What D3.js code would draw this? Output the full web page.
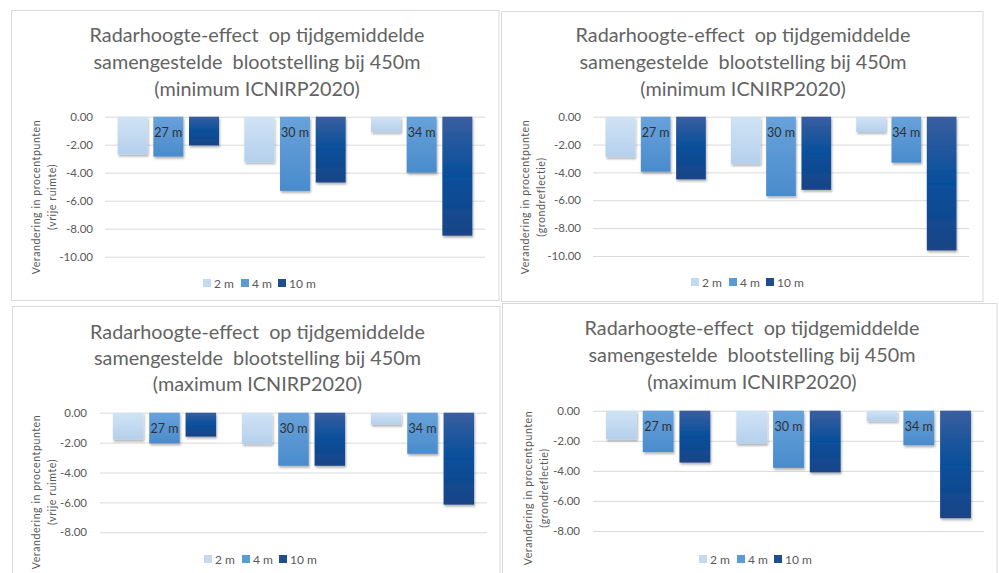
<!DOCTYPE html>
<html><head><meta charset="utf-8">
<script src="https://cdn.jsdelivr.net/npm/d3@7"></script>
<style>
html,body{margin:0;padding:0;background:#fff;}
svg{display:block;font-family:Lato,"Open Sans",sans-serif;}
</style></head>
<body>
<svg id="c" width="999" height="573"></svg>
<script>
// ---------- data ----------
const categories = ["27 m", "30 m", "34 m"];
const seriesNames = ["2 m", "4 m", "10 m"];
const titleLine1 = "Radarhoogte-effect  op tijdgemiddelde";
const titleLine2 = "samengestelde  blootstelling bij 450m";
const titleMin = "(minimum ICNIRP2020)";
const titleMax = "(maximum ICNIRP2020)";
const yTitleMain = "Verandering in procentpunten";
const yTitleVrij = "(vrije ruimte)";
const yTitleGrond = "(grondreflectie)";
const ticksTen = [0, -2, -4, -6, -8, -10];
const ticksEight = [0, -2, -4, -6, -8];

// minimum, vrije ruimte
const minVrij2 = [-2.70, -3.25, -1.10];
const minVrij4 = [-2.85, -5.30, -4.00];
const minVrij10 = [-2.05, -4.70, -8.50];
// minimum, grondreflectie
const minGrond2 = [-2.90, -3.40, -1.10];
const minGrond4 = [-3.95, -5.70, -3.30];
const minGrond10 = [-4.50, -5.25, -9.60];
// maximum, vrije ruimte
const maxVrij2 = [-1.80, -2.10, -0.80];
const maxVrij4 = [-2.05, -3.55, -2.75];
const maxVrij10 = [-1.60, -3.55, -6.15];
// maximum, grondreflectie
const maxGrond2 = [-1.90, -2.20, -0.70];
const maxGrond4 = [-2.75, -3.80, -2.30];
const maxGrond10 = [-3.45, -4.10, -7.15];

// ---------- layout ----------
const panels = [
  {box:[11.5,10.5,487.5,290], cx:257, ty:[34,61,88], sub:titleMin, px:[105,485], py:[116.7,256.7], ymin:-10, ticks:ticksTen, tx:93,
   yt:[36,52], ytc:197, yt2:yTitleVrij, ly:283, lx:203, vals:[minVrij2,minVrij4,minVrij10]},
  {box:[501.5,11.5,481.5,290], cx:743, ty:[34,61,88], sub:titleMin, px:[593,969], py:[116.7,256], ymin:-10, ticks:ticksTen, tx:581,
   yt:[525,541], ytc:197, yt2:yTitleGrond, ly:282, lx:691, vals:[minGrond2,minGrond4,minGrond10]},
  {box:[12.5,306.5,487.5,300], cx:257.5, ty:[331,357,383], sub:titleMax, px:[100,487], py:[412.7,532.3], ymin:-8, ticks:ticksEight, tx:87,
   yt:[36,52], ytc:492, yt2:yTitleVrij, ly:559, lx:204, vals:[maxVrij2,maxVrij4,maxVrij10]},
  {box:[502.5,303.5,494.5,300], cx:752, ty:[327,354,381], sub:titleMax, px:[593,984], py:[410.7,531], ymin:-8, ticks:ticksEight, tx:580,
   yt:[528,544], ytc:488, yt2:yTitleGrond, ly:559, lx:699, vals:[maxGrond2,maxGrond4,maxGrond10]}
];

const svg = d3.select("#c");
const defs = svg.append("defs");
const gradStops = [
  [["0%","#d0e3f5"],["100%","#b5d0ec"]],
  [["0%","#68a2db"],["100%","#4a8bcc"]],
  [["0%","#3a5e9f"],["50%","#064f9b"],["100%","#1b4486"]]
];
gradStops.forEach((st,i)=>{
  const g = defs.append("linearGradient").attr("id","g"+i).attr("x1",0).attr("y1",0).attr("x2",0).attr("y2",1);
  st.forEach(s=>g.append("stop").attr("offset",s[0]).attr("stop-color",s[1]));
});
const legendColors = ["#c3daf1","#5b9bd5","#1f4e8f"];
const f = defs.append("filter").attr("id","sh").attr("x","-20%").attr("y","-20%").attr("width","150%").attr("height","150%");
f.append("feDropShadow").attr("dx",1).attr("dy",2).attr("stdDeviation",1.3).attr("flood-color","#000").attr("flood-opacity",0.3);

const gray = "#595959";

panels.forEach(p=>{
  const g = svg.append("g");
  g.append("rect").attr("x",p.box[0]).attr("y",p.box[1]).attr("width",p.box[2]).attr("height",p.box[3])
    .attr("fill","#fff").attr("stroke","#d9d9d9").attr("stroke-width",1);

  // title
  [titleLine1,titleLine2,p.sub].forEach((t,i)=>{
    g.append("text").attr("x",p.cx).attr("y",p.ty[i]).attr("text-anchor","middle").attr("dominant-baseline","central")
      .attr("fill","#636363").attr("font-size",19.8).style("white-space","pre").text(t);
  });

  const y = d3.scaleLinear().domain([0,p.ymin]).range(p.py);
  const x0 = d3.scaleBand().domain(categories).range(p.px).paddingInner(0).paddingOuter(0);
  const bw = x0.bandwidth();
  const x1 = d3.scaleBand().domain(seriesNames).range([0, bw*0.8]).paddingInner(0.16).paddingOuter(0);

  // gridlines
  const ax = d3.axisLeft(y).tickValues(p.ticks).tickSize(-(p.px[1]-p.px[0])).tickFormat(d=>d.toFixed(2)).tickPadding(p.px[0]-p.tx);
  const ag = g.append("g").attr("transform",`translate(${p.px[0]},0)`).call(ax);
  ag.select(".domain").remove();
  ag.selectAll(".tick line").attr("stroke","#d9d9d9");
  ag.selectAll(".tick text").attr("fill",gray).attr("font-size",11.5).attr("font-family","Lato,sans-serif");

  // bars
  seriesNames.forEach((s,si)=>{
    g.append("g").selectAll("rect").data(p.vals[si]).join("rect")
      .attr("x",(d,i)=>x0(categories[i]) + bw*0.1 + x1(s))
      .attr("y",y(0))
      .attr("width",x1.bandwidth())
      .attr("height",d=>y(d)-y(0))
      .attr("fill",`url(#g${si})`)
      .attr("filter","url(#sh)");
  });

  // category labels
  g.append("g").selectAll("text").data(categories).join("text")
    .attr("x",d=>x0(d)+bw/2).attr("y",y(0)+15.5).attr("text-anchor","middle").attr("dominant-baseline","central")
    .attr("fill","#303030").attr("font-size",12.5).text(d=>d);

  // y title
  [yTitleMain,p.yt2].forEach((t,i)=>{
    g.append("text").attr("transform",`translate(${p.yt[i]},${p.ytc}) rotate(-90)`).attr("text-anchor","middle")
      .attr("dominant-baseline","central").attr("fill",gray).attr("font-size",10.5).attr("letter-spacing",0.6).text(t);
  });

  // legend
  const offs = [0,38,75];
  seriesNames.forEach((s,si)=>{
    const lg = g.append("g").attr("transform",`translate(${p.lx+offs[si]},${p.ly})`);
    lg.append("rect").attr("x",0).attr("y",-4).attr("width",8).attr("height",8).attr("fill",legendColors[si]);
    lg.append("text").attr("x",11).attr("y",0).attr("dominant-baseline","central").attr("fill",gray).attr("font-size",12).text(s);
  });
});
</script>
</body></html>
